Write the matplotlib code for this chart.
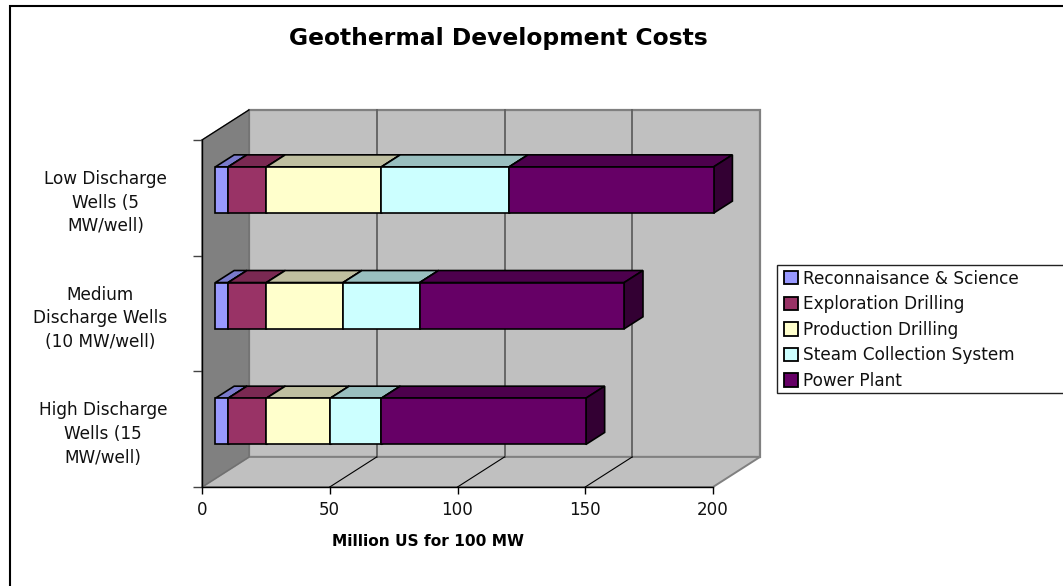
"""Geothermal development costs, stacked bars drawn with a fake 3D box."""

import matplotlib
matplotlib.use("Agg")
import matplotlib.pyplot as plt
from matplotlib.lines import Line2D
from matplotlib.patches import Patch, Polygon, Rectangle

categories = ["High Discharge\nWells (15\nMW/well)",
              "Medium\nDischarge Wells\n(10 MW/well)",
              "Low Discharge\nWells (5\nMW/well)"]
series_names = ["Reconnaisance & Science", "Exploration Drilling",
                "Production Drilling", "Steam Collection System", "Power Plant"]
reconnaissance = [5, 5, 5]
exploration = [15, 15, 15]
production = [25, 30, 45]
steam = [20, 30, 50]
power_plant = [80, 80, 80]
x_ticks = [0, 50, 100, 150, 200]

front_colors = ["#9999FF", "#993366", "#FFFFCC", "#CCFFFF", "#660066"]
top_colors = ["#7A7ACC", "#7A2952", "#BFBFA0", "#99BFBF", "#4D004D"]
side_colors = ["#4D4D80", "#4D1933", "#808066", "#668080", "#330033"]

W, H = 1063, 586
X0, X1 = 202, 713     # front plane, pixels
Y0, Y1 = 487, 140
DEPTH_X = 18.4        # data units of x for the full box depth
DEPTH_Y = 0.26        # data units of y for the full box depth
XMAX = 200
YMAX = 3
BAR_H = 0.4
BAR_D0, BAR_D1 = 0.26, 0.66
BAR_NUDGE = 0.45      # bars sit a hair right of the pure projection


def proj(x, y, d):
    return (x + d * DEPTH_X, y + d * DEPTH_Y)


def bar_proj(x, y, d):
    return proj(x + BAR_NUDGE, y, d)


def face(ax, pts, color, edge="black", lw=1.2, z=2):
    ax.add_patch(Polygon(pts, closed=True, facecolor=color, edgecolor=edge,
                         linewidth=lw, clip_on=False, zorder=z,
                         joinstyle="miter"))


def main() -> None:
    fig = plt.figure(figsize=(W / 100, H / 100), dpi=100, facecolor="white")
    plt.rcParams["font.family"] = "DejaVu Sans"

    # outer chart border, only top and left fall inside the picture
    fig.add_artist(Line2D([10 / W, 10 / W, 1], [0, 1 - 6 / H, 1 - 6 / H],
                          transform=fig.transFigure, color="black", linewidth=1.5,
                          solid_joinstyle="miter"))

    ax = fig.add_axes([X0 / W, 1 - Y0 / H, (X1 - X0) / W, (Y0 - Y1) / H])
    ax.set_xlim(0, XMAX)
    ax.set_ylim(0, YMAX)
    ax.patch.set_visible(False)
    for s in ("top", "right"):
        ax.spines[s].set_visible(False)
    for s in ("left", "bottom"):
        ax.spines[s].set_linewidth(1.0)
        ax.spines[s].set_zorder(6)

    # walls
    wall = "#C0C0C0"
    edge = "#808080"
    face(ax, [proj(0, 0, 1), proj(XMAX, 0, 1), proj(XMAX, YMAX, 1), proj(0, YMAX, 1)],
         wall, edge=edge, lw=1.6, z=0)
    face(ax, [proj(0, 0, 0), proj(XMAX, 0, 0), proj(XMAX, 0, 1), proj(0, 0, 1)],
         wall, edge=edge, lw=1.4, z=0.5)
    face(ax, [proj(0, 0, 0), proj(0, 0, 1), proj(0, YMAX, 1), proj(0, YMAX, 0)],
         "#808080", edge="#707070", lw=1.0, z=0.5)
    ax.plot(*zip(proj(0, YMAX, 0), proj(0, YMAX, 1)), color="black", lw=0.9,
            clip_on=False, zorder=0.7)

    # gridlines, back wall and floor
    for t in x_ticks[1:-1]:
        ax.plot(*zip(proj(t, 0, 1), proj(t, YMAX, 1)), color="#606060", lw=1.3,
                clip_on=False, zorder=1)
        ax.plot(*zip(proj(t, 0, 0), proj(t, 0, 1)), color="black", lw=0.8,
                clip_on=False, zorder=1)

    # stacked bars
    stacks = [reconnaissance, exploration, production, steam, power_plant]
    for i in range(len(categories)):
        y_lo, y_hi = i + 0.5 - BAR_H / 2, i + 0.5 + BAR_H / 2
        left = 0
        for k, values in enumerate(stacks):
            right = left + values[i]
            face(ax, [bar_proj(left, y_hi, BAR_D0), bar_proj(right, y_hi, BAR_D0),
                      bar_proj(right, y_hi, BAR_D1), bar_proj(left, y_hi, BAR_D1)],
                 top_colors[k], z=2 + k * 0.1)
            face(ax, [bar_proj(right, y_lo, BAR_D0), bar_proj(right, y_lo, BAR_D1),
                      bar_proj(right, y_hi, BAR_D1), bar_proj(right, y_hi, BAR_D0)],
                 side_colors[k], z=2 + k * 0.1)
            face(ax, [bar_proj(left, y_lo, BAR_D0), bar_proj(right, y_lo, BAR_D0),
                      bar_proj(right, y_hi, BAR_D0), bar_proj(left, y_hi, BAR_D0)],
                 front_colors[k], z=2.05 + k * 0.1)
            left = right

    # axes
    ax.set_xticks(x_ticks)
    ax.tick_params(axis="x", length=5, width=1.0, labelsize=12.1, pad=5,
                   labelcolor="#111111")
    ax.set_yticks(range(YMAX + 1))
    ax.set_yticklabels([])
    ax.tick_params(axis="y", which="major", length=6.5, width=1.0, color="#444444")
    ax.set_yticks([0.5, 1.5, 2.5], minor=True)
    ax.set_yticklabels(categories, minor=True, fontsize=12.2, ha="right",
                       multialignment="center", linespacing=1.4, color="#111111")
    ax.tick_params(axis="y", which="minor", length=0, pad=25)

    fig.text(428 / W, 1 - 541 / H, "Million US for 100 MW", fontsize=11.1,
             fontweight="bold", ha="center", va="center")
    fig.text(498 / W, 1 - 38 / H, "Geothermal Development Costs", fontsize=16.8,
             fontweight="bold", ha="center", va="center")

    # legend: frame runs past the right edge of the picture, so draw it apart
    fig.add_artist(Rectangle((776.5 / W, 1 - 393 / H), 300 / W, 128 / H,
                             transform=fig.transFigure, facecolor="white",
                             edgecolor="#222222", linewidth=1.0))
    handles = [Patch(facecolor=c, edgecolor="black", linewidth=1.3) for c in front_colors]
    leg = fig.legend(handles, series_names, loc="upper left",
                     bbox_to_anchor=(784 / W, 1 - 269.5 / H),
                     bbox_transform=fig.transFigure, ncol=1, frameon=False,
                     fontsize=12.15, borderaxespad=0, borderpad=0,
                     handlelength=0.84, handleheight=0.84, handletextpad=0.28,
                     labelspacing=0.45, labelcolor="#111111")
    leg.set_zorder(5)

    fig.savefig("out.png", dpi=100, facecolor="white")
    plt.close(fig)


if __name__ == "__main__":
    main()
